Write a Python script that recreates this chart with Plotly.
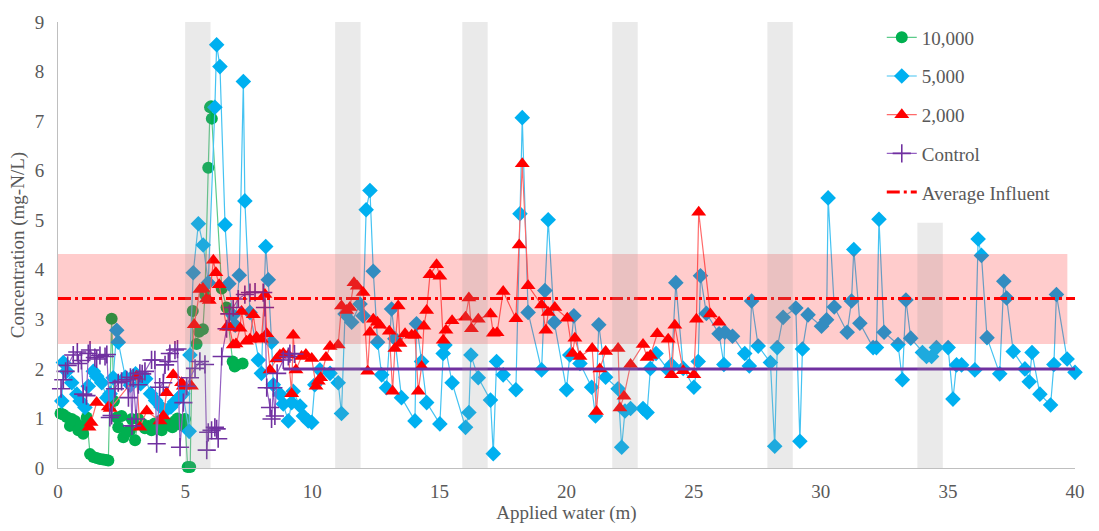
import plotly.graph_objects as go

# Nitrate concentration vs. applied water, one list of (applied water m, mg-N/L) per column
conc_10000 = [
    (0.1, 1.1), (0.2, 1.08), (0.34, 1.03), (0.47, 0.85), (0.54, 0.99), (0.67, 0.95),
    (0.8, 0.76), (0.9, 0.85), (0.99, 0.69), (1.13, 1.02), (1.26, 0.28), (1.39, 0.22),
    (1.52, 0.2), (1.65, 0.18), (1.78, 0.17), (1.9, 0.16), (1.98, 0.15), (2.11, 3.01),
    (2.2, 1.35), (2.31, 1.02), (2.37, 0.82), (2.5, 1.05), (2.57, 0.62), (2.7, 0.72),
    (2.83, 0.76), (2.9, 0.99), (3.03, 0.56), (3.16, 0.99), (3.3, 0.9), (3.42, 0.8),
    (3.55, 0.85), (3.68, 0.76), (3.8, 0.9), (3.88, 0.82), (4.0, 0.95), (4.08, 0.76),
    (4.2, 0.85), (4.3, 0.9), (4.4, 0.89), (4.5, 0.82), (4.6, 0.95), (4.7, 1.0),
    (4.8, 0.89), (4.9, 0.85), (4.99, 0.99), (5.1, 0.02), (5.2, 0.02), (5.3, 3.17),
    (5.45, 2.5), (5.55, 2.75), (5.7, 2.8), (5.78, 3.5), (5.91, 6.06), (5.98, 7.28),
    (6.02, 7.3), (6.05, 7.05), (6.44, 3.62), (6.63, 3.24), (6.87, 2.15), (6.95, 2.05),
    (7.02, 2.08), (7.26, 2.11),
]

conc_5000 = [
    (0.15, 1.35), (0.21, 2.13), (0.34, 1.95), (0.54, 1.72), (0.74, 1.49), (0.87, 1.35),
    (1.06, 1.22), (1.19, 1.65), (1.39, 1.95), (1.52, 1.85), (1.72, 1.72), (1.92, 1.42),
    (2.05, 1.5), (2.17, 1.82), (2.31, 2.78), (2.37, 2.54), (2.65, 1.83), (2.85, 1.67),
    (3.05, 1.9), (3.25, 1.7), (3.45, 1.8), (3.64, 1.5), (3.84, 1.36), (4.05, 1.23),
    (4.24, 1.16), (4.44, 1.23), (4.58, 1.33), (4.78, 1.43), (4.91, 1.5), (5.16, 0.74),
    (5.19, 2.28), (5.32, 3.94), (5.52, 4.93), (5.71, 4.5), (5.91, 3.74), (6.17, 7.28),
    (6.24, 8.54), (6.37, 8.1), (6.57, 4.91), (6.72, 3.72), (6.88, 3.08), (6.97, 2.88),
    (7.13, 3.89), (7.29, 7.8), (7.35, 5.39), (7.55, 3.14), (7.88, 2.18), (8.0, 1.91),
    (8.17, 4.47), (8.27, 3.8), (8.4, 2.54), (8.47, 1.68), (8.73, 1.49), (8.86, 1.29),
    (9.06, 0.95), (9.19, 1.32), (9.25, 1.55), (9.52, 1.25), (9.65, 1.05), (9.84, 0.95),
    (9.98, 0.92), (10.1, 1.68), (10.3, 1.98), (10.7, 1.91), (11.02, 1.72), (11.15, 1.1),
    (11.29, 3.11), (11.55, 2.94), (11.88, 3.31), (12.0, 3.07), (12.12, 5.21), (12.27, 5.6),
    (12.4, 3.97), (12.57, 2.54), (12.73, 1.88), (12.92, 1.62), (13.12, 3.21), (13.25, 2.61),
    (13.51, 1.42), (14.04, 0.95), (14.1, 2.91), (14.3, 2.15), (14.5, 1.32), (15.02, 0.89),
    (15.15, 2.31), (15.22, 2.48), (15.5, 1.72), (16.03, 0.82), (16.16, 1.12), (16.24, 2.28),
    (16.53, 1.82), (17.01, 1.37), (17.12, 0.29), (17.25, 2.15), (17.51, 1.88), (18.01, 1.58),
    (18.17, 5.13), (18.26, 7.07), (18.49, 3.14), (19.02, 1.98), (19.15, 3.58), (19.28, 5.01),
    (19.52, 2.94), (20.0, 1.58), (20.13, 2.28), (20.29, 3.07), (20.53, 2.11), (20.99, 1.63),
    (21.14, 1.05), (21.27, 2.89), (21.54, 1.83), (22.03, 1.6), (22.17, 0.42), (22.3, 1.15),
    (22.52, 1.2), (23.01, 1.2), (23.17, 1.12), (23.3, 2.01), (23.52, 2.31), (24.0, 1.98),
    (24.13, 2.08), (24.3, 3.74), (24.59, 2.01), (25.01, 1.63), (25.18, 2.15), (25.27, 3.88),
    (25.5, 3.12), (26.0, 2.71), (26.19, 2.09), (26.23, 2.74), (26.53, 2.66), (27.01, 2.31),
    (27.19, 2.06), (27.28, 3.37), (27.54, 2.46), (28.02, 2.13), (28.19, 0.44), (28.29, 2.43),
    (28.52, 3.04), (29.02, 3.23), (29.18, 0.54), (29.28, 2.4), (29.5, 3.09), (30.03, 2.86),
    (30.23, 2.99), (30.29, 5.45), (30.53, 3.25), (31.04, 2.74), (31.21, 3.37), (31.3, 4.41),
    (31.54, 2.92), (32.06, 2.43), (32.19, 2.43), (32.29, 5.02), (32.49, 2.74), (33.04, 2.49),
    (33.21, 1.78), (33.35, 3.39), (33.54, 2.62), (34.0, 2.33), (34.16, 2.25), (34.36, 2.25),
    (34.55, 2.43), (35.01, 2.43), (35.2, 1.39), (35.34, 2.08), (35.54, 2.08), (36.06, 1.98),
    (36.19, 4.62), (36.32, 4.29), (36.54, 2.63), (37.04, 1.9), (37.2, 3.77), (37.31, 3.43),
    (37.57, 2.35), (38.03, 2.0), (38.2, 1.74), (38.31, 2.33), (38.62, 1.49), (39.04, 1.27),
    (39.17, 2.09), (39.27, 3.5), (39.69, 2.2), (40.0, 1.93),
]

conc_2000 = [
    (1.22, 0.82), (1.3, 0.92), (1.52, 1.32), (1.98, 1.23), (2.05, 1.2), (3.09, 1.85),
    (3.22, 0.82), (3.49, 1.15), (4.01, 0.95), (4.14, 1.05), (4.27, 1.52), (4.53, 1.88),
    (4.86, 1.72), (4.93, 1.65), (5.25, 1.65), (5.36, 2.89), (5.58, 3.6), (5.7, 3.62),
    (5.84, 3.41), (5.95, 3.38), (6.11, 4.19), (6.21, 3.94), (6.34, 3.7), (6.63, 2.84),
    (6.75, 2.84), (6.89, 2.48), (7.0, 2.5), (7.16, 2.82), (7.22, 3.16), (7.41, 2.56),
    (7.55, 2.6), (7.68, 3.09), (7.81, 2.64), (8.0, 2.6), (8.14, 3.5), (8.21, 2.71),
    (8.34, 1.98), (8.6, 2.2), (8.73, 2.28), (8.86, 2.31), (9.06, 2.28), (9.19, 1.5),
    (9.25, 2.68), (9.36, 1.98), (9.58, 2.25), (9.75, 2.29), (9.98, 2.21), (10.15, 1.65),
    (10.24, 1.75), (10.33, 1.82), (10.54, 2.23), (10.7, 2.45), (11.02, 2.48), (11.15, 3.27),
    (11.35, 3.18), (11.48, 3.24), (11.64, 3.74), (11.77, 3.67), (12.0, 3.54), (12.18, 1.95),
    (12.27, 2.74), (12.4, 3.0), (12.56, 2.94), (12.66, 2.88), (13.03, 2.76), (13.16, 1.55),
    (13.25, 2.41), (13.38, 3.27), (13.45, 2.51), (13.65, 2.71), (13.91, 2.68), (14.04, 2.68),
    (14.17, 1.55), (14.3, 2.05), (14.39, 2.86), (14.5, 3.18), (14.63, 3.9), (14.89, 4.1),
    (15.02, 3.87), (15.15, 2.58), (15.26, 2.78), (15.5, 2.97), (16.03, 3.04), (16.16, 3.43),
    (16.26, 2.81), (16.53, 3.0), (17.01, 3.11), (17.12, 2.72), (17.27, 2.73), (17.51, 3.56),
    (18.01, 3.01), (18.14, 4.5), (18.26, 6.14), (18.49, 3.68), (19.02, 3.29), (19.19, 2.78),
    (19.28, 3.14), (19.54, 3.24), (20.03, 3.02), (20.24, 2.31), (20.33, 2.62), (20.53, 2.25),
    (21.01, 2.41), (21.18, 1.14), (21.31, 2.0), (21.54, 2.35), (22.03, 2.41), (22.1, 1.21),
    (22.26, 1.45), (22.52, 2.09), (23.01, 2.49), (23.17, 2.23), (23.3, 2.27), (23.57, 2.71),
    (24.0, 2.6), (24.13, 1.88), (24.26, 2.88), (24.59, 1.96), (25.01, 1.88), (25.11, 3.0),
    (25.2, 5.16), (25.66, 3.11), (26.0, 2.94),
]

conc_control = [
    (0.12, 1.6), (0.21, 1.78), (0.3, 1.95), (0.38, 2.07), (0.6, 2.28), (0.76, 2.34),
    (0.8, 2.11), (0.92, 2.17), (0.99, 1.49), (1.12, 1.46), (1.19, 2.31), (1.26, 2.38),
    (1.45, 2.23), (1.52, 2.2), (1.65, 2.27), (1.85, 2.25), (1.92, 2.29), (2.04, 1.02),
    (2.11, 1.06), (2.24, 1.6), (2.37, 1.72), (2.5, 1.75), (2.7, 1.78), (2.77, 1.42),
    (2.85, 1.83), (2.91, 0.85), (2.96, 1.82), (3.07, 0.99), (3.16, 1.68), (3.22, 1.91),
    (3.31, 1.9), (3.42, 1.95), (3.68, 2.18), (3.81, 2.18), (3.88, 0.49), (4.0, 1.63),
    (4.14, 1.72), (4.21, 2.08), (4.34, 2.15), (4.4, 2.31), (4.6, 2.38), (4.7, 2.4),
    (4.8, 0.42), (4.93, 1.32), (5.06, 1.65), (5.19, 1.82), (5.39, 2.01), (5.58, 2.15),
    (5.78, 2.09), (5.85, 0.36), (5.91, 0.72), (6.04, 0.76), (6.17, 0.82), (6.24, 0.79),
    (6.3, 0.59), (6.44, 2.25), (6.63, 2.81), (6.74, 3.11), (6.89, 3.24), (7.09, 3.41),
    (7.35, 3.5), (7.55, 3.54), (7.75, 3.55), (8.07, 3.54), (8.14, 3.24), (8.21, 1.62),
    (8.34, 1.22), (8.4, 0.99), (8.47, 1.62), (8.53, 1.05), (8.62, 1.91), (8.86, 2.18),
    (9.06, 2.25), (9.12, 2.31), (9.3, 2.3),
]

# Control level carried on after sampling ended
control_level_x = [8.86, 40.0]
control_level = 2.0

# Average influent concentration and its range
influent_avg = 3.42
influent_low, influent_high = 2.5, 4.32
influent_band_end = 39.7

# Rest periods (start of each 1 m interval) and their heights
rest_starts = [5.0, 10.9, 15.9, 21.8, 27.9, 33.8]
rest_tops = [9, 9, 9, 9, 9, 4.95]

x_ticks = [0, 5, 10, 15, 20, 25, 30, 35, 40]
y_ticks = list(range(10))

FONT = "Liberation Serif, Times New Roman, serif"
TXT = "#595959"
FS = 19


def split(pairs):
    return [p[0] for p in pairs], [p[1] for p in pairs]


fig = go.Figure()

series = [
    ("10,000", conc_10000, "circle", 12, "#00B050", "#5CCB8A", None),
    ("5,000", conc_5000, "diamond", 12, "#00B0F0", "#45C3F2", None),
    ("2,000", conc_2000, "triangle-up", 13, "#FF0000", "#FF6A6A", None),
    ("Control", conc_control, "cross-thin", 13, "#7030A0", "#9460C2", 1.6),
]

for name, pairs, sym, size, mcol, lcol, mlw in series:
    xs, ys = split(pairs)
    marker = dict(symbol=sym, size=size, color=mcol)
    if mlw:
        marker["line"] = dict(color=mcol, width=mlw)
    else:
        marker["line"] = dict(width=0)
    fig.add_trace(go.Scatter(
        x=xs, y=ys, name=name, mode="lines+markers",
        line=dict(color=lcol, width=1.2), marker=marker,
        cliponaxis=False, legendgroup=name,
    ))

fig.add_trace(go.Scatter(
    x=control_level_x, y=[control_level] * len(control_level_x),
    mode="lines", line=dict(color="#7030A0", width=3),
    showlegend=False, hoverinfo="skip",
))

fig.add_trace(go.Scatter(
    x=[0, 40], y=[influent_avg, influent_avg], name="Average Influent",
    mode="lines", line=dict(color="#FF0000", width=3, dash="13px,4px,3px,4px"),
    legendgroup="avg",
))

shapes = [dict(
    type="rect", xref="x", yref="y", layer="above",
    x0=0, x1=influent_band_end, y0=influent_low, y1=influent_high,
    fillcolor="rgba(255,0,0,0.2)", line=dict(width=0),
)]
for s, top in zip(rest_starts, rest_tops):
    shapes.append(dict(
        type="rect", xref="x", yref="y", layer="above",
        x0=s, x1=s + 1, y0=0, y1=top,
        fillcolor="rgba(150,150,150,0.2)", line=dict(width=0),
    ))

fig.update_layout(
    width=1099, height=531,
    margin=dict(l=58, r=24, t=15, b=63),
    paper_bgcolor="white", plot_bgcolor="white",
    font=dict(family=FONT, size=FS, color=TXT),
    shapes=shapes,
    showlegend=True,
    legend=dict(
        x=0.81, y=1.008, xanchor="left", yanchor="top",
        bgcolor="rgba(0,0,0,0)", font=dict(family=FONT, size=FS, color=TXT),
        tracegroupgap=11, itemwidth=30,
    ),
    xaxis=dict(
        range=[0, 40], tickvals=x_ticks, showgrid=False, zeroline=False,
        showline=True, linecolor="#BFBFBF", linewidth=1, ticks="",
        ticklabelstandoff=6,
        title=dict(text="Applied water (m)", font=dict(family=FONT, size=FS, color=TXT), standoff=4),
    ),
    yaxis=dict(
        range=[0, 9], tickvals=y_ticks, showgrid=False, zeroline=False,
        showline=True, linecolor="#BFBFBF", linewidth=1, ticks="",
        ticklabelstandoff=9,
        title=dict(text="Concentration (mg-N/L)", font=dict(family=FONT, size=FS, color=TXT), standoff=5),
    ),
)

fig.write_html("out.html")
